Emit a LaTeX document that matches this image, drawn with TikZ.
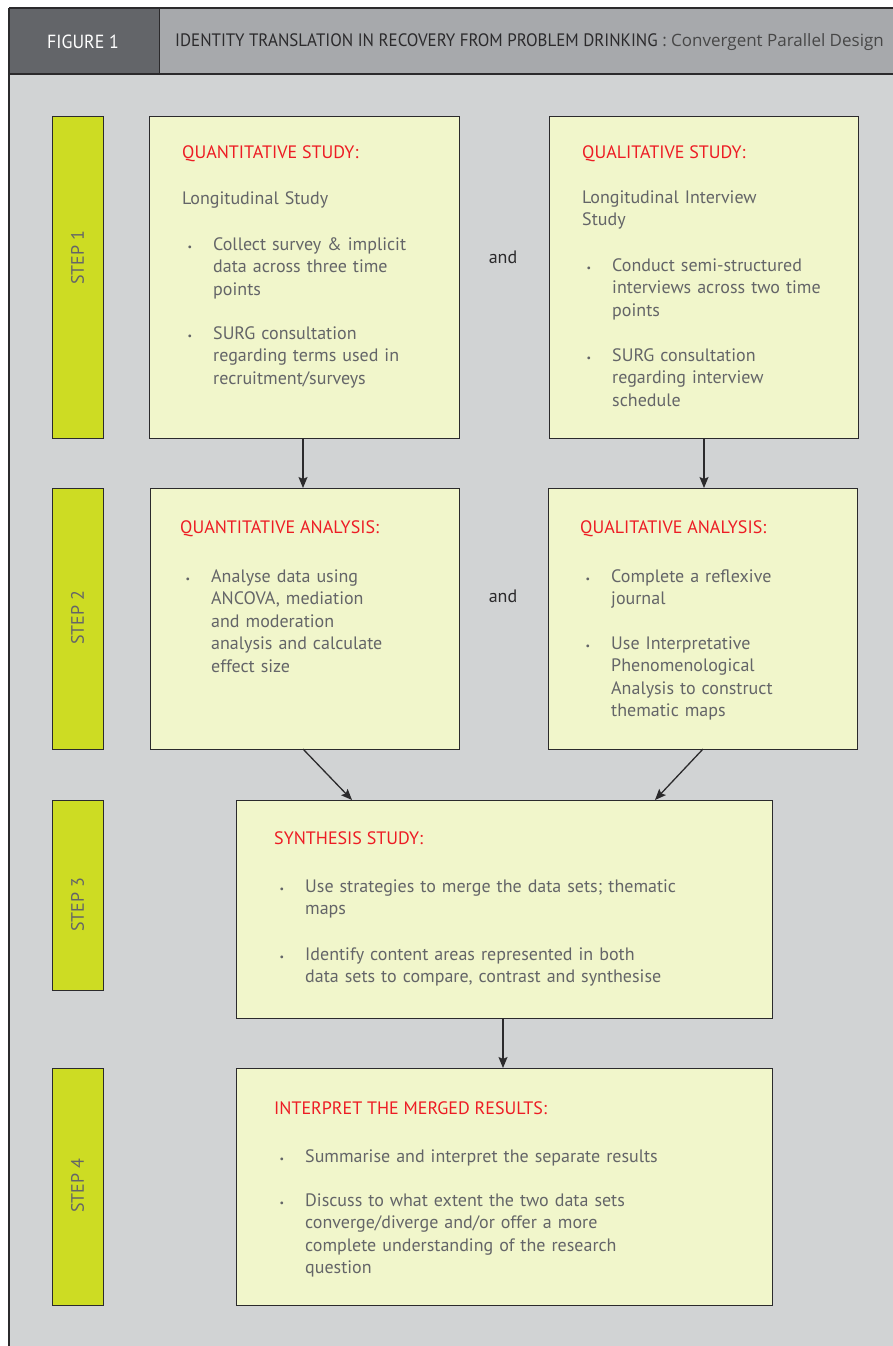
\documentclass[tikz,border=0pt]{standalone}
\usepackage{fontspec}
\setmainfont{PT Sans}
\newfontfamily\condfont[FakeStretch=0.94]{PT Sans}
\newfontfamily\lightfont{Open Sans}
\usetikzlibrary{arrows.meta,calc}
\definecolor{panelgrey}{HTML}{D1D3D4}
\definecolor{headdark}{HTML}{636569}
\definecolor{headlight}{HTML}{A7A9AC}
\definecolor{boxfill}{HTML}{F1F6CB}
\definecolor{stepgreen}{HTML}{CDDC23}
\definecolor{textgrey}{HTML}{646568}
\definecolor{titlered}{HTML}{ED1C24}
\definecolor{linedark}{HTML}{2B2A2C}
\tikzset{
  x=1pt,y=-1pt,
  stepbar/.style={draw=linedark,line width=1.3pt,fill=stepgreen,anchor=north west,inner sep=0pt},
  mainbox/.style={draw=linedark,line width=1.3pt,fill=boxfill,anchor=north west,inner sep=0pt},
  steplabel/.style={rotate=90,text=textgrey,font=\fontsize{18}{20}\selectfont,inner sep=0pt},
  boxtitle/.style={anchor=base west,inner sep=0pt,text=titlered,font=\fontsize{18}{22.5}\selectfont},
  para/.style={anchor=base west,inner sep=0pt,text=textgrey,font=\fontsize{18}{22.5}\selectfont,text width=440pt,align=left},
  bul/.style={anchor=base,inner sep=0pt,text=textgrey,font=\fontsize{10}{12}\selectfont},
  andtxt/.style={anchor=base,inner sep=0pt,text=linedark,font=\fontsize{18}{20}\selectfont},
  flow/.style={draw=linedark,line width=1.3pt,-{Stealth[length=11pt,width=9pt,inset=2pt]}}
}
\begin{document}
\begin{tikzpicture}
\useasboundingbox (0,0) rectangle (892,1346);
\fill[white] (0,0) rectangle (892,1346);
% panel
\fill[panelgrey] (9,8) rectangle (896,1350);
\fill[headlight] (9,8) rectangle (896,74);
\fill[headdark] (9,8) rectangle (159,74);
\draw[linedark,line width=1.3pt] (9,8) -- (896,8);
\draw[linedark,line width=2pt] (9,74) -- (896,74);
\draw[linedark,line width=1pt] (159,8) -- (159,74);
\draw[linedark,line width=1.3pt] (9,8) -- (9,1350);
\node[text=white,font=\condfont\fontsize{19}{22}\selectfont,inner sep=0pt] (fig) at (83,42) {FIGURE 1};
\node[anchor=west,text=linedark,font=\condfont\fontsize{18}{22}\selectfont,inner sep=0pt] (title) at (175,42) {IDENTITY TRANSLATION IN RECOVERY FROM PROBLEM DRINKING\ {\lightfont\fontsize{17}{22}\selectfont\color{black!72}: Convergent Parallel Design}};

% step bars
\node[stepbar,minimum width=51pt,minimum height=322pt] (s1) at (52,116) {};
\node[stepbar,minimum width=51pt,minimum height=261pt] (s2) at (52,488) {};
\node[stepbar,minimum width=51pt,minimum height=190pt] (s3) at (52,800) {};
\node[stepbar,minimum width=51pt,minimum height=237pt] (s4) at (52,1068) {};
\node[steplabel] (l1) at (77.5,258) {STEP 1};
\node[steplabel] (l2) at (77.5,618) {STEP 2};
\node[steplabel] (l3) at (77.5,905) {STEP 3};
\node[steplabel] (l4) at (77.5,1186) {STEP 4};

% boxes
\node[mainbox,minimum width=310pt,minimum height=322pt] (qs) at (149,116) {};
\node[mainbox,minimum width=309pt,minimum height=322pt] (ls) at (549,116) {};
\node[mainbox,minimum width=309pt,minimum height=261pt] (qa) at (150,488) {};
\node[mainbox,minimum width=309pt,minimum height=261pt] (la) at (548,488) {};
\node[mainbox,minimum width=536pt,minimum height=218pt] (syn) at (236,800) {};
\node[mainbox,minimum width=536pt,minimum height=237pt] (int) at (236,1068) {};

\node[andtxt] (and1) at (503,263) {and};
\node[andtxt] (and2) at (503,602) {and};

% quantitative study
\node[boxtitle] (qst) at (182,158) {QUANTITATIVE STUDY:};
\node[para] (qsp) at (182,204) {Longitudinal Study};
\node[bul] (qsb1) at (190,250) {\textbullet};
\node[para] (qs1) at (213,250) {Collect survey \& implicit\\data across three time\\points};
\node[bul] (qsb2) at (190,339) {\textbullet};
\node[para] (qs2) at (213,339) {SURG consultation\\regarding terms used in\\recruitment/surveys};

% qualitative study
\node[boxtitle] (lst) at (582,158) {QUALITATIVE STUDY:};
\node[para] (lsp) at (582,203) {Longitudinal Interview\\Study};
\node[bul] (lsb1) at (589,271) {\textbullet};
\node[para] (ls1) at (612,271) {Conduct semi-structured\\interviews across two time\\points};
\node[bul] (lsb2) at (589,361) {\textbullet};
\node[para] (ls2) at (612,361) {SURG consultation\\regarding interview\\schedule};

% quantitative analysis
\node[boxtitle] (qat) at (180,533) {QUANTITATIVE ANALYSIS:};
\node[bul] (qab1) at (188,582) {\textbullet};
\node[para] (qa1) at (211,582) {Analyse data using\\ANCOVA, mediation\\and moderation\\analysis and calculate\\effect size};

% qualitative analysis
\node[boxtitle] (lat) at (580,533) {QUALITATIVE ANALYSIS:};
\node[bul] (lab1) at (588,582) {\textbullet};
\node[para] (la1) at (611,582) {Complete a reflexive\\journal};
\node[bul] (lab2) at (588,649) {\textbullet};
\node[para] (la2) at (611,649) {Use Interpretative\\Phenomenological\\Analysis to construct\\thematic maps};

% synthesis
\node[boxtitle] (synt) at (274,844) {SYNTHESIS STUDY:};
\node[bul] (synb1) at (282,892) {\textbullet};
\node[para] (syn1) at (305,892) {Use strategies to merge the data sets; thematic\\maps};
\node[bul] (synb2) at (282,960) {\textbullet};
\node[para] (syn2) at (305,960) {Identify content areas represented in both\\data sets to compare, contrast and synthesise};

% interpret
\node[boxtitle] (intt) at (274,1114) {INTERPRET THE MERGED RESULTS:};
\node[bul] (intb1) at (282,1162) {\textbullet};
\node[para] (int1) at (305,1162) {Summarise and interpret the separate results};
\node[bul] (intb2) at (282,1206) {\textbullet};
\node[para] (int2) at (305,1206) {Discuss to what extent the two data sets\\converge/diverge and/or offer a more\\complete understanding of the research\\question};

% connectors
\coordinate (qsout) at (303,438);
\coordinate (qain) at (303,488);
\coordinate (lsout) at (704,438);
\coordinate (lain) at (704,488);
\coordinate (qaout) at (303,749);
\coordinate (laout) at (703,749);
\coordinate (synin1) at (352,800);
\coordinate (synin2) at (655,800);
\coordinate (synout) at (503,1018);
\coordinate (intin) at (503,1068);
\draw[flow] (qsout) -- (qain);
\draw[flow] (lsout) -- (lain);
\draw[flow] (qaout) -- (synin1);
\draw[flow] (laout) -- (synin2);
\draw[flow] (synout) -- (intin);
\end{tikzpicture}
\end{document}
